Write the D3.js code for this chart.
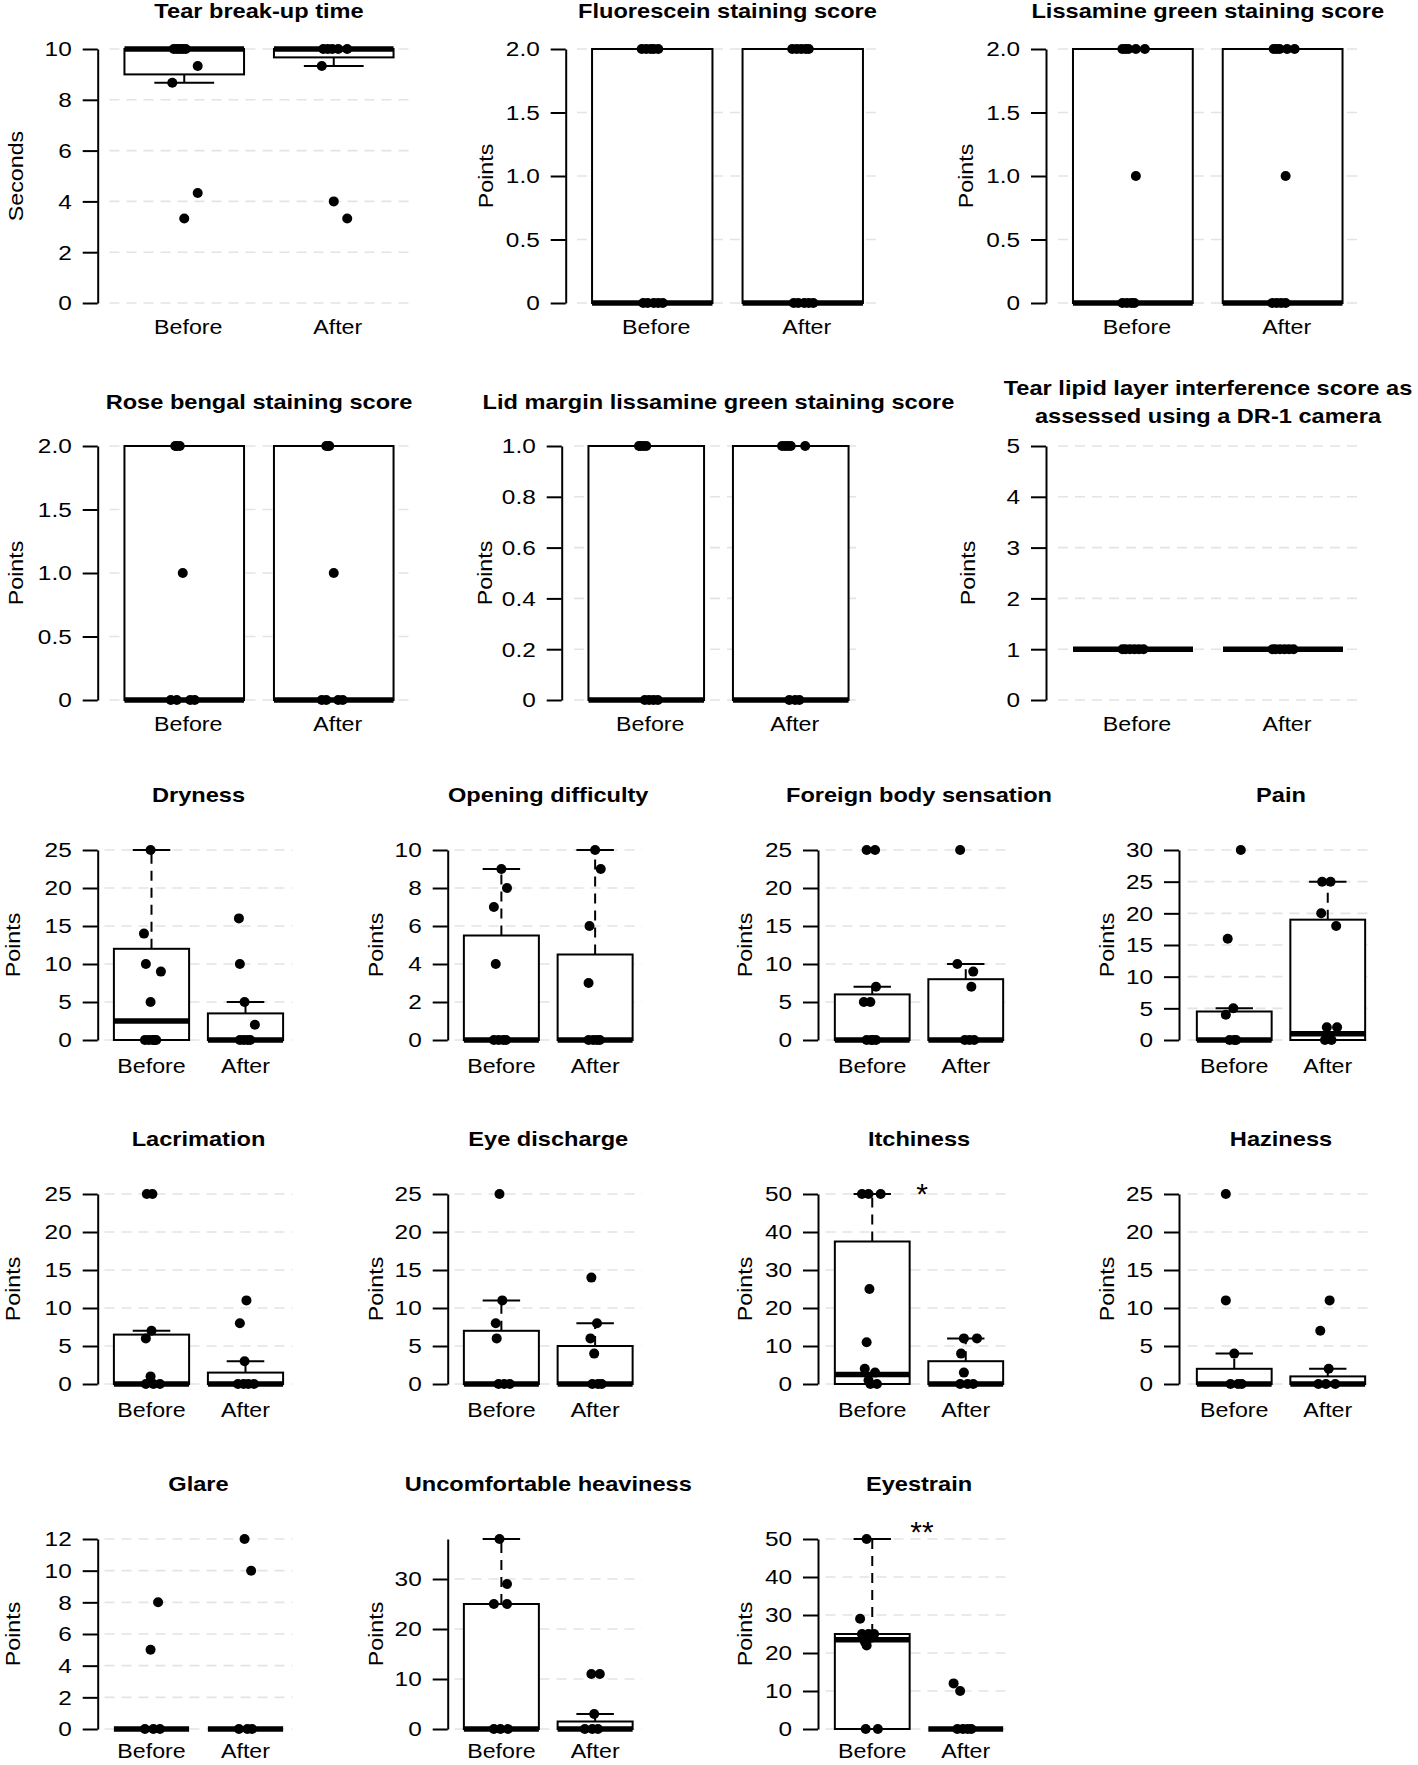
<!DOCTYPE html>
<html><head><meta charset="utf-8">
<script src="https://cdn.jsdelivr.net/npm/d3@7"></script>
<style>body{margin:0;background:#fff} svg{display:block}</style>
</head><body><svg id="chart" width="1418" height="1765"></svg>
<script>
// ---------------- DATA ----------------
const groups = ["Before", "After"];
const titles = [
  "Tear break-up time", "Fluorescein staining score", "Lissamine green staining score",
  "Rose bengal staining score", "Lid margin lissamine green staining score",
  "Tear lipid layer interference score as\nassessed using a DR-1 camera",
  "Dryness", "Opening difficulty", "Foreign body sensation", "Pain",
  "Lacrimation", "Eye discharge", "Itchiness", "Haziness",
  "Glare", "Uncomfortable heaviness", "Eyestrain"
];
const yAxisLabels = ["Seconds","Points","Points","Points","Points","Points","Points","Points",
  "Points","Points","Points","Points","Points","Points","Points","Points","Points"];
const yMaxValues = [10, 2, 2, 2, 1, 5, 25, 10, 25, 30, 25, 25, 50, 25, 12, 38, 50];
const yTickValues = [
  [0,2,4,6,8,10], [0,0.5,1,1.5,2], [0,0.5,1,1.5,2], [0,0.5,1,1.5,2],
  [0,0.2,0.4,0.6,0.8,1], [0,1,2,3,4,5],
  [0,5,10,15,20,25], [0,2,4,6,8,10], [0,5,10,15,20,25], [0,5,10,15,20,25,30],
  [0,5,10,15,20,25], [0,5,10,15,20,25], [0,10,20,30,40,50], [0,5,10,15,20,25],
  [0,2,4,6,8,10,12], [0,10,20,30], [0,10,20,30,40,50]
];
const yTickLabels = [
  ["0","2","4","6","8","10"], ["0","0.5","1.0","1.5","2.0"], ["0","0.5","1.0","1.5","2.0"],
  ["0","0.5","1.0","1.5","2.0"], ["0","0.2","0.4","0.6","0.8","1.0"], ["0","1","2","3","4","5"],
  ["0","5","10","15","20","25"], ["0","2","4","6","8","10"], ["0","5","10","15","20","25"],
  ["0","5","10","15","20","25","30"], ["0","5","10","15","20","25"], ["0","5","10","15","20","25"],
  ["0","10","20","30","40","50"], ["0","5","10","15","20","25"], ["0","2","4","6","8","10","12"],
  ["0","10","20","30"], ["0","10","20","30","40","50"]
];
// box statistics: [lower whisker, Q1, median, Q3, upper whisker]
const boxBefore = [
  [8.67,9,10,10,10], [0,0,0,2,2], [0,0,0,2,2], [0,0,0,2,2], [0,0,0,1,1], [1,1,1,1,1],
  [0,0,2.5,12,25], [0,0,0,5.5,9], [0,0,0,6,7], [0,0,0,4.5,5],
  [0,0,0,6.5,7], [0,0,0,7,11], [0,0,2.5,37.5,50], [0,0,0,2,4],
  [0,0,0,0,0], [0,0,0,25,38], [0,0,23.5,25,50]
];
const boxAfter = [
  [9.33,9.67,10,10,10], [0,0,0,2,2], [0,0,0,2,2], [0,0,0,2,2], [0,0,0,1,1], [1,1,1,1,1],
  [0,0,0,3.5,5], [0,0,0,4.5,10], [0,0,0,8,10], [0,0,1,19,25],
  [0,0,0,1.5,3], [0,0,0,5,8], [0,0,0,6,12], [0,0,0,1,2],
  [0,0,0,0,0], [0,0,0,1.5,3], [0,0,0,0,0]
];
// individual observations
const pointsBefore = [
  [10,10,10,10,10,9.33,8.67,4.33,3.33], [2,2,2,2,2,0,0,0,0,0], [2,2,2,2,2,1,0,0,0,0],
  [2,2,2,1,0,0,0,0], [1,1,1,1,0,0,0,0], [1,1,1,1,1,1],
  [25,14,10,9,5,0,0,0,0,0], [9,8,7,4,0,0,0,0], [25,25,7,5,5,0,0,0,0], [30,16,5,4,0,0,0],
  [25,25,7,6,1,0,0,0], [25,11,8,6,0,0,0], [50,50,50,25,11,4,3,1,0,0], [25,11,4,0,0,0],
  [8,5,0,0,0], [38,29,25,25,0,0,0], [50,29,25,25,25,24,23,22,0,0]
];
const pointsAfter = [
  [10,10,10,10,10,9.33,4,3.33], [2,2,2,2,2,0,0,0,0,0], [2,2,2,2,2,1,0,0,0,0],
  [2,2,2,1,0,0,0,0], [1,1,1,1,1,0,0,0], [1,1,1,1,1,1],
  [16,10,5,2,0,0,0,0], [10,9,6,3,0,0,0,0], [25,10,9,7,0,0,0], [25,25,20,18,2,2,0,0],
  [11,8,3,0,0,0,0], [14,8,6,4,0,0,0], [12,12,8,3,0,0,0], [11,7,2,0,0,0],
  [12,10,0,0,0], [11,11,3,0,0,0], [12,10,0,0,0,0]
];
// beeswarm horizontal offsets, in percent of one category width
const jitterBefore = [
  [-7,-5,-3,-1,1,9,-8,9,0], [-7,-4,-1,1,4,-6,-3,1,4,7], [-7,-5,-3,2,8,2,-7,-4,-1,1],
  [-6,-5,-3,-1,-9,-5,4,7], [-5,-4,-2,0,-1,2,5,8], [-7,-5,-2,1,4,7],
  [-1,-8,-6,10,-1,-7,-3,1,5,3], [0,6,-8,-6,-8,-3,2,5], [-6,3,4,-9,-2,-6,-1,4,0], [7,-7,-1,-9,-5,2,0],
  [-5,1,0,-6,-1,-6,2,9], [-2,1,-6,-5,-3,3,9], [-11,-4,9,-3,-6,-8,3,-4,-2,5], [-9,-9,0,-4,4,8],
  [7,-1,-7,2,9], [-2,6,-8,6,-8,-1,7], [-6,-13,-11,-4,2,-1,-8,-6,-7,6]
];
const jitterAfter = [
  [-7,-4,-1,3,9,-8,0,9], [-7,-4,-1,2,4,-6,-3,1,4,7], [-6,-4,-2,3,8,2,-7,-4,-1,2],
  [-5,-4,-3,0,-8,-5,3,6], [-6,-4,-2,0,10,-1,3,6], [-7,-5,-2,1,4,7],
  [-7,-6,-1,10,-6,-2,2,5], [0,6,-6,-7,-7,-2,2,5], [-6,-9,8,6,-1,4,9], [-6,3,-7,9,-1,10,-3,4],
  [1,-6,-1,-8,-2,3,9], [-4,2,-5,-1,-3,3,7], [-2,12,-5,-2,-6,2,8], [2,-8,1,-10,-2,8],
  [-1,6,-7,2,7], [-4,5,-1,-11,-3,3], [-13,-6,-9,-3,2,6]
];
const sigLabels = ["","","","","","","","","","","","","*","","","","**"];
const sigValues = [0,0,0,0,0,0,0,0,0,0,0,0,51.6,0,0,0,53.4];

// ---------------- LAYOUT ----------------
const rowBoxes = [
  {top:49,   bot:303,  title:18,   xlab:334,  shift:4},
  {top:446,  bot:700,  title:409,  xlab:731,  shift:4},
  {top:850,  bot:1040, title:802,  xlab:1073, shift:0},
  {top:1194, bot:1384, title:1146, xlab:1417, shift:0},
  {top:1539, bot:1729, title:1491, xlab:1758, shift:0}
];
const colsRow1 = [
  {axis:97.7, x0:109.5, x1:408.5, ylab:23},
  {axis:565.7, x0:577, x1:878, ylab:493},
  {axis:1046, x0:1058, x1:1357.5, ylab:973}
];
const colsRow2 = [
  {axis:97.7, x0:109.5, x1:408.5, ylab:23},
  {axis:561.7, x0:574, x1:863, ylab:491.5},
  {axis:1046, x0:1058, x1:1358, ylab:975}
];
const colsLower = [
  {axis:97.7, x0:104.5, x1:292.5, ylab:20},
  {axis:447.7, x0:454.5, x1:642, ylab:383},
  {axis:818, x0:825.5, x1:1012.5, ylab:752},
  {axis:1179, x0:1187.5, x1:1374.5, ylab:1114}
];
function geometry(i) {
  if (i < 3) return {row: rowBoxes[0], col: colsRow1[i]};
  if (i < 6) return {row: rowBoxes[1], col: colsRow2[i-3]};
  const k = i - 6;
  return {row: rowBoxes[2 + Math.floor(k/4)], col: colsLower[k % 4]};
}

const FONT = "'Liberation Sans', Arial, Helvetica, sans-serif";
const SX = 1.19;
const svg = d3.select("#chart");

function label(parent, x, y, str, o = {}) {
  const size = o.size || 19.5, sx = o.sx || SX;
  return parent.append("text")
    .attr("transform", `translate(${x},${y})${o.rotate ? ` rotate(${o.rotate})` : ""} scale(${sx},1)`)
    .attr("text-anchor", o.anchor || "middle")
    .attr("font-family", FONT).attr("font-size", size)
    .attr("font-weight", o.weight || "normal").attr("fill", "#000").text(str);
}

titles.forEach((title, i) => {
  const {row, col} = geometry(i);
  const g = svg.append("g");
  const x = d3.scaleBand().domain(groups).range([col.x0, col.x1]).padding(0);
  const y = d3.scaleLinear().domain([0, yMaxValues[i]]).range([row.bot, row.top]);
  const bw = x.bandwidth();

  // grid
  g.append("g").selectAll("line").data(yTickValues[i]).join("line")
    .attr("x1", col.x0).attr("x2", col.x1)
    .attr("y1", d => y(d)).attr("y2", d => y(d))
    .attr("stroke", "#e4e4e4").attr("stroke-width", 1.6).attr("stroke-dasharray", "10,7");

  // y axis
  const axis = d3.axisLeft(y).tickValues(yTickValues[i])
    .tickFormat((d, k) => yTickLabels[i][k]).tickSize(15).tickSizeOuter(0).tickPadding(11);
  const ag = g.append("g").attr("transform", `translate(${col.axis},0)`).call(axis);
  ag.select(".domain").attr("stroke", "#000").attr("stroke-width", 2);
  ag.selectAll(".tick line").attr("stroke", "#000").attr("stroke-width", 2);
  ag.selectAll(".tick text")
    .attr("x", null).attr("dy", "0.35em")
    .attr("transform", "translate(-26,0) scale(1.25,1)")
    .attr("font-family", FONT).attr("font-size", 19.5).attr("fill", "#000");

  // boxes
  const boxStats = [boxBefore[i], boxAfter[i]];
  groups.forEach((grp, gi) => {
    const s = boxStats[gi];
    const cx = x(grp) + bw / 2, w = bw * 0.8, cw = bw * 0.4;
    const bg = g.append("g");
    if (s[4] > s[3]) {
      bg.append("line").attr("x1", cx).attr("x2", cx).attr("y1", y(s[3])).attr("y2", y(s[4]))
        .attr("stroke", "#000").attr("stroke-width", 2).attr("stroke-dasharray", "10,7");
      bg.append("line").attr("x1", cx - cw/2).attr("x2", cx + cw/2).attr("y1", y(s[4])).attr("y2", y(s[4]))
        .attr("stroke", "#000").attr("stroke-width", 2);
    }
    if (s[0] < s[1]) {
      bg.append("line").attr("x1", cx).attr("x2", cx).attr("y1", y(s[1])).attr("y2", y(s[0]))
        .attr("stroke", "#000").attr("stroke-width", 2).attr("stroke-dasharray", "10,7");
      bg.append("line").attr("x1", cx - cw/2).attr("x2", cx + cw/2).attr("y1", y(s[0])).attr("y2", y(s[0]))
        .attr("stroke", "#000").attr("stroke-width", 2);
    }
    bg.append("rect").attr("x", cx - w/2).attr("width", w)
      .attr("y", y(s[3])).attr("height", Math.max(0, y(s[1]) - y(s[3])))
      .attr("fill", "#fff").attr("stroke", "#000").attr("stroke-width", 2);
    bg.append("line").attr("x1", cx - w/2).attr("x2", cx + w/2).attr("y1", y(s[2])).attr("y2", y(s[2]))
      .attr("stroke", "#000").attr("stroke-width", 5.5);
  });

  // points
  const pts = [];
  pointsBefore[i].forEach((v, k) => pts.push({g: "Before", v, j: jitterBefore[i][k]}));
  pointsAfter[i].forEach((v, k) => pts.push({g: "After", v, j: jitterAfter[i][k]}));
  g.append("g").selectAll("circle").data(pts).join("circle")
    .attr("cx", d => x(d.g) + bw / 2 + d.j / 100 * bw)
    .attr("cy", d => y(d.v)).attr("r", 5).attr("fill", "#000");

  // x labels
  groups.forEach(grp => label(g, x(grp) + bw / 2 + row.shift, row.xlab, grp));

  // title
  const tx = (col.x0 + col.x1) / 2;
  const lines = title.split("\n");
  lines.forEach((ln, li) => {
    const ty = row.title + (li - (lines.length - 1) / 2) * 28;
    label(g, tx, ty, ln, {size: 20, weight: "bold", sx: 1.18});
  });

  // y label
  label(g, col.ylab, (row.top + row.bot) / 2, yAxisLabels[i], {rotate: -90});

  // significance
  if (sigLabels[i]) {
    g.append("text").attr("x", (col.x0 + col.x1) / 2 + 3).attr("y", y(sigValues[i]) + 16)
      .attr("text-anchor", "middle").attr("font-family", FONT).attr("font-size", 30)
      .attr("fill", "#000").text(sigLabels[i]);
  }
});
</script>
</body></html>
